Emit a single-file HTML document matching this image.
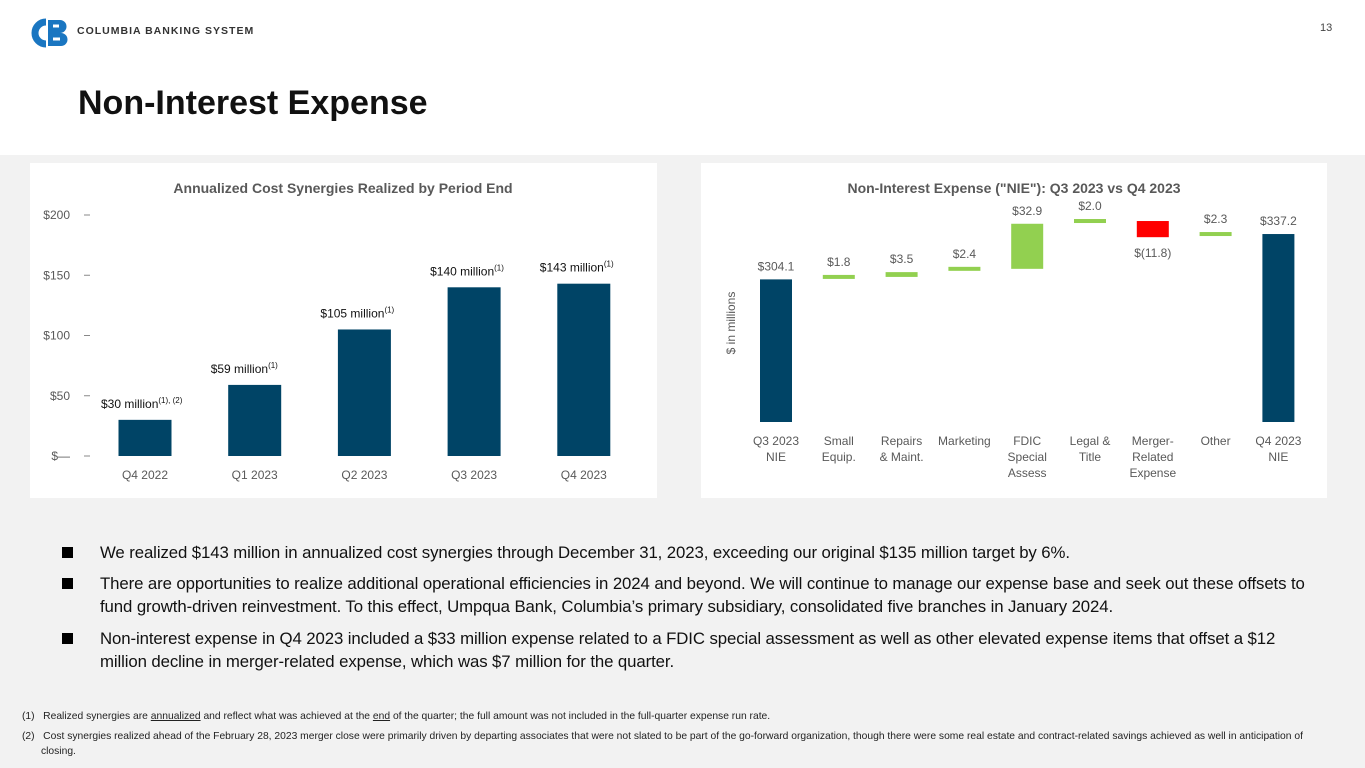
<!DOCTYPE html>
<html><head><meta charset="utf-8"><style>
body{margin:0;width:1365px;height:768px;overflow:hidden;background:#fff;font-family:"Liberation Sans",sans-serif;position:relative}
.abs{position:absolute}
#band{left:0;top:155px;width:1365px;height:613px;background:#f2f2f2}
.panel{background:#fff;top:163px;height:335px}
.bul{left:100px;width:1205px;font-size:16.8px;color:#111;line-height:23px;letter-spacing:-0.1px}
.sq{left:62px;width:11px;height:11px;background:#000}
.fn{left:22px;font-size:10.3px;color:#222;width:1300px;line-height:15px}
</style></head><body>
<div id="band" class="abs"></div>
<div class="abs" style="left:26px;top:18px">
<svg width="44" height="30"><path d="M20 4 A11 11 0 1 0 20 26" stroke="#1a76c1" stroke-width="7" fill="none"/><path d="M22 2 h12 a6.5 6.5 0 0 1 0 13 h-12z M22 15 h13 a6.5 6.5 0 0 1 0 13 h-13z" fill="#1a76c1"/><path d="M27 8 h6 M27 21 h7" stroke="#fff" stroke-width="3"/></svg></div>
<div class="abs" style="left:77px;top:25px;font-size:10.5px;font-weight:bold;letter-spacing:1px;color:#333">COLUMBIA BANKING SYSTEM</div>
<div class="abs" style="left:1320px;top:22px;font-size:11px;color:#444">13</div>
<div class="abs" style="left:78px;top:84px;font-size:34px;font-weight:bold;color:#111">Non-Interest Expense</div>
<div class="abs panel" style="left:30px;width:627px"><svg id="c1" width="627" height="335"></svg></div>
<div class="abs panel" style="left:701px;width:626px"><svg id="c2" width="626" height="335"></svg></div>

<div class="abs sq" style="top:547px"></div>
<div class="abs bul" style="top:541px">We realized $143 million in annualized cost synergies through December 31, 2023, exceeding our original $135 million target by 6%.</div>
<div class="abs sq" style="top:578px"></div>
<div class="abs bul" style="top:572px">There are opportunities to realize additional operational efficiencies in 2024 and beyond. We will continue to manage our expense base and seek out these offsets to fund growth-driven reinvestment. To this effect, Umpqua Bank, Columbia’s primary subsidiary, consolidated five branches in January 2024.</div>
<div class="abs sq" style="top:633px"></div>
<div class="abs bul" style="top:627px">Non-interest expense in Q4 2023 included a $33 million expense related to a FDIC special assessment as well as other elevated expense items that offset a $12 million decline in merger-related expense, which was $7 million for the quarter.</div>
<div class="abs fn" style="top:709px">(1)&nbsp;&nbsp; Realized synergies are <u>annualized</u> and reflect what was achieved at the <u>end</u> of the quarter; the full amount was not included in the full-quarter expense run rate.</div>
<div class="abs fn" style="top:729px;padding-left:19px;text-indent:-19px;width:1290px">(2)&nbsp;&nbsp; Cost synergies realized ahead of the February 28, 2023 merger close were primarily driven by departing associates that were not slated to be part of the go-forward organization, though there were some real estate and contract-related savings achieved as well in anticipation of closing.</div>

<script>
const c1Cats=["Q4 2022","Q1 2023","Q2 2023","Q3 2023","Q4 2023"];
const c1Vals=[30,59,105,140,143];
const c1Labels=["$30 million","$59 million","$105 million","$140 million","$143 million"];
const c1Sup=["(1), (2)","(1)","(1)","(1)","(1)"];
const c1Ticks=[0,50,100,150,200];
const c1TickLabels=["$—","$50","$100","$150","$200"];

const c2Cats=[["Q3 2023","NIE"],["Small","Equip."],["Repairs","& Maint."],["Marketing"],["FDIC","Special","Assess"],["Legal &","Title"],["Merger-","Related","Expense"],["Other"],["Q4 2023","NIE"]];
const c2Vals=[304.1,1.8,3.5,2.4,32.9,2.0,-11.8,2.3,337.2];
const c2Types=["total","delta","delta","delta","delta","delta","delta","delta","total"];
const c2Labels=["$304.1","$1.8","$3.5","$2.4","$32.9","$2.0","$(11.8)","$2.3","$337.2"];

const NS="http://www.w3.org/2000/svg";
function mk(svg,tag,a,txt){const e=document.createElementNS(NS,tag);for(const k in a)e.setAttribute(k,a[k]);if(txt!==undefined)e.textContent=txt;svg.appendChild(e);return e;}

(function(){
const s=document.getElementById('c1');
const y=v=>293-v*1.205, x=i=>115+i*109.7;
let t=mk(s,'text',{x:313,y:30,'text-anchor':'middle','font-size':14,'font-weight':'bold',fill:'#595959'},'Annualized Cost Synergies Realized by Period End');

c1Ticks.forEach((v,i)=>{
 let l=mk(s,'text',{x:40,y:y(v)+4,'text-anchor':'end','font-size':12,fill:'#595959'},c1TickLabels[i]);
 
 mk(s,'line',{x1:54,x2:60,y1:y(v),y2:y(v),stroke:'#888'});
});
c1Vals.forEach((v,i)=>{
 let r=mk(s,'rect',{x:x(i)-26.5,y:y(v),width:53,height:v*1.205,fill:'#004466'});
 
 let tx=mk(s,'text',{x:x(i)-44,y:y(v)-12,'font-size':12,fill:'#111'});
 
 const a=document.createElementNS(NS,'tspan');a.textContent=c1Labels[i];tx.appendChild(a);
 const b=document.createElementNS(NS,'tspan');b.setAttribute('font-size',8);b.setAttribute('dy',-5);b.textContent=c1Sup[i];tx.appendChild(b);
 let c=mk(s,'text',{x:x(i),y:316,'text-anchor':'middle','font-size':12,fill:'#595959'},c1Cats[i]);
 
});
})();

(function(){
const s=document.getElementById('c2');
const y=v=>259-(v-200)*1.37, x=i=>75+i*62.8;
let t=mk(s,'text',{x:313,y:30,'text-anchor':'middle','font-size':14,'font-weight':'bold',fill:'#595959'},'Non-Interest Expense ("NIE"): Q3 2023 vs Q4 2023');

let yt=mk(s,'text',{x:0,y:0,transform:'translate(34,160) rotate(-90)','text-anchor':'middle','font-size':12,fill:'#595959'},'$ in millions');

let cum=0;
c2Vals.forEach((v,i)=>{
 let top,bot,fill;
 if(c2Types[i]=='total'){top=v;bot=200;fill='#004466';cum=v;}
 else{const a=cum,b=cum+v;top=Math.max(a,b);bot=Math.min(a,b);cum=b;fill=v<0?'#ff0000':'#92d050';}
 let h=(top-bot)*1.37; let yy=y(top); if(h<4){yy=y(top)-2;h=4;}
 let r=mk(s,'rect',{x:x(i)-16,y:yy,width:32,height:h,fill:fill});
 
 const ly=v<0?y(bot)+20:yy-9;
 let l=mk(s,'text',{x:x(i),y:ly,'text-anchor':'middle','font-size':12,fill:'#595959'},c2Labels[i]);
 
 c2Cats[i].forEach((line,j)=>{
  let c=mk(s,'text',{x:x(i),y:282+j*16,'text-anchor':'middle','font-size':12,fill:'#595959'},line);
  
 });
});
})();
</script>
</body></html>
